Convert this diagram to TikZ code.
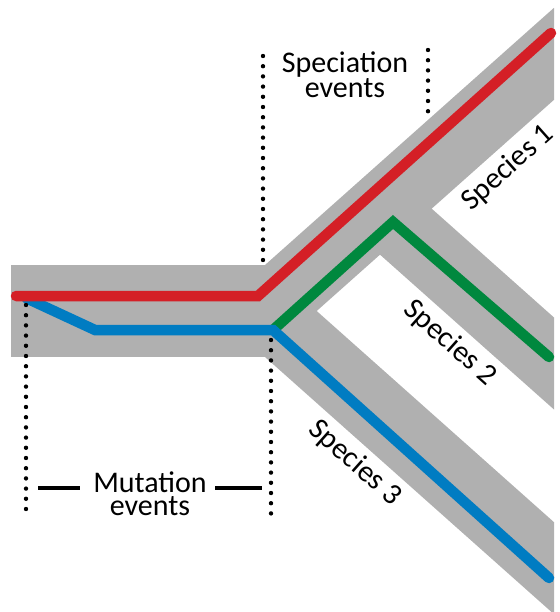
\documentclass[tikz,border=0pt]{standalone}
\usepackage{fontspec}
\setmainfont{Carlito}
\definecolor{bandgray}{RGB}{176,176,176}
\definecolor{linered}{RGB}{212,31,38}
\definecolor{linegreen}{RGB}{0,136,62}
\definecolor{lineblue}{RGB}{0,124,194}
\tikzset{
  band/.style={fill=bandgray},
  lineage/.style={line width=10.5pt, line cap=round, line join=miter},
  dotline/.style={line width=4.4pt, line cap=round, dash pattern=on 0pt off 10.2pt},
  bar/.style={line width=3.2pt},
  lbl/.style={font=\fontsize{30}{23}\selectfont, align=center, inner sep=0pt}
}
\begin{document}
\begin{tikzpicture}[x=1pt,y=-1pt]
\useasboundingbox (0,0) rectangle (559,612);
% population bands
\fill[band] (11,265) rectangle (266,357);
\fill[band] (265,265) -- (554,7.8) -- (554,99.8) -- (265,357) -- cycle;
\fill[band] (265,265) -- (554,522.2) -- (554,614.2) -- (265,357) -- cycle;
\fill[band] (380,162.65) -- (554,317.5) -- (554,409.5) -- (380,254.65) -- cycle;
% lineage paths
\coordinate (r0) at (16,296);
\coordinate (r1) at (258,296);
\coordinate (r2) at (551,33);
\coordinate (b0) at (26,298);
\coordinate (b1) at (95,330);
\coordinate (b2) at (273,330);
\coordinate (b3) at (549,578);
\coordinate (g1) at (393,222);
\coordinate (g2) at (549,357);
\draw[lineage, linegreen] (b2) -- (g1) -- (g2);
\draw[lineage, lineblue] (b0) -- (b1) -- (b2) -- (b3);
\draw[lineage, linered] (r0) -- (r1) -- (r2);
% event markers
\coordinate (m1a) at (26,305);
\coordinate (m1b) at (26,512);
\coordinate (m2a) at (271,340);
\coordinate (m2b) at (271,517);
\coordinate (s1a) at (263,56);
\coordinate (s1b) at (263,264);
\coordinate (s2a) at (428,50);
\coordinate (s2b) at (428,112);
\draw[dotline] (m1a) -- (m1b);
\draw[dotline] (m2a) -- (m2b);
\draw[dotline] (s1a) -- (s1b);
\draw[dotline] (s2a) -- (s2b);
% labels
\node[lbl] (spec) at (345,75) {Speciation\\events};
\node[lbl] (mut) at (150,494) {Mutation\\events};
\coordinate (d1a) at (38,488);
\coordinate (d1b) at (80,488);
\coordinate (d2a) at (215,488);
\coordinate (d2b) at (262,488);
\draw[bar] (d1a) -- (d1b);
\draw[bar] (d2a) -- (d2b);
\node[lbl, rotate=41.7] (sp1) at (508,168) {Species 1};
\node[lbl, rotate=-41.7] (sp2) at (450,343) {Species 2};
\node[lbl, rotate=-41.7] (sp3) at (355,463) {Species 3};
\end{tikzpicture}
\end{document}
